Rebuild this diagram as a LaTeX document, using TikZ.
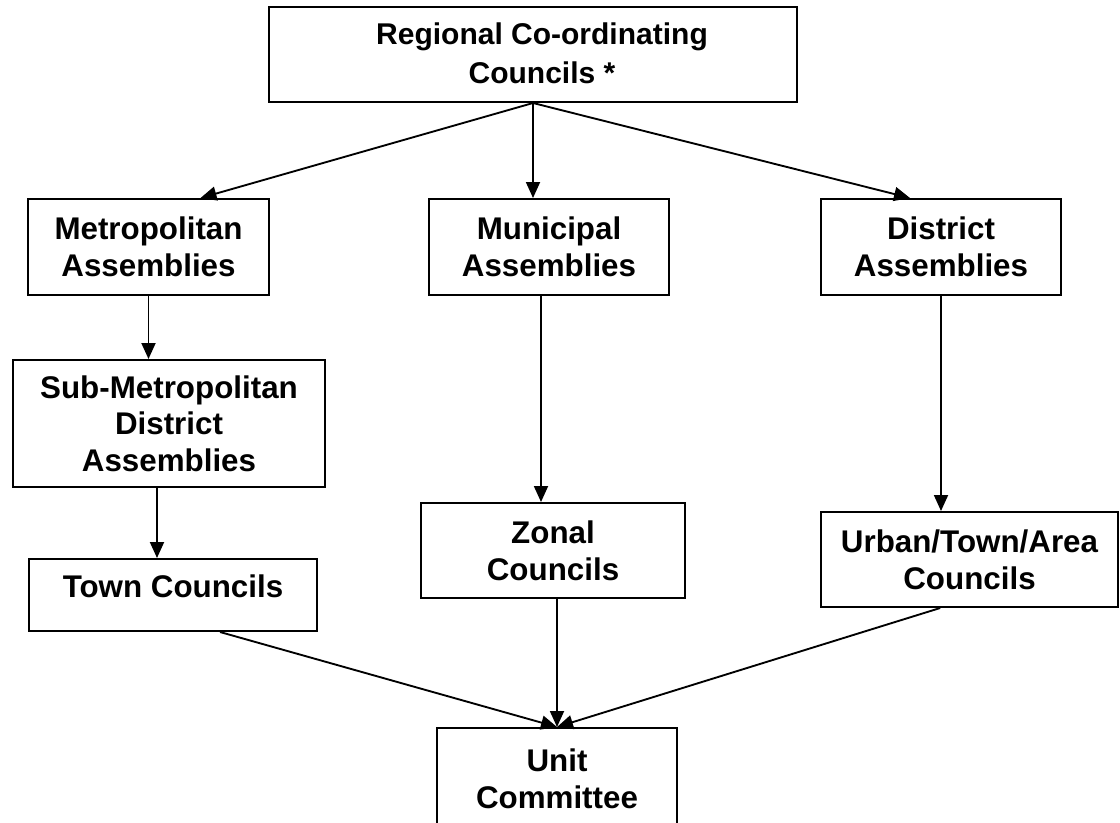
\documentclass[tikz,border=0pt]{standalone}
\usepackage{fontspec}
\setmainfont{Liberation Sans}
\usetikzlibrary{arrows.meta,calc}
\begin{document}
\begin{tikzpicture}[x=0.75pt,y=-0.75pt,
  box/.style={draw=black, line width=1.5pt, fill=white, inner sep=0pt, align=center,
    font=\fontsize{23.5pt}{27.5pt}\selectfont\bfseries},
  lbl/.style={inner sep=0pt, align=center, font=\fontsize{23.5pt}{27.5pt}\selectfont\bfseries},
  arr/.style={line width=1.4pt, -{Triangle[length=12pt,width=10.5pt]}}]
\clip (0,0) rectangle (1120,822);
\fill[white] (0,0) rectangle (1120,822);

\node[box, minimum width=396pt, minimum height=71.25pt] (reg) at (533,54.5) {};
\node[lbl, font=\fontsize{22.5pt}{29.5pt}\selectfont\bfseries] (regt) at (542,53) {Regional Co-ordinating\\Councils *};
\node[box, minimum width=180.75pt, minimum height=72pt] (metro) at (148.5,247) {Metropolitan\\Assemblies};
\node[box, minimum width=180pt, minimum height=72pt] (muni) at (549,247) {Municipal\\Assemblies};
\node[box, minimum width=180pt, minimum height=72pt] (dist) at (941,247) {District\\Assemblies};
\node[box, minimum width=234pt, minimum height=95.25pt] (sub) at (169,423.5) {Sub-Metropolitan\\District\\Assemblies};
\node[box, minimum width=216pt, minimum height=54pt] (town) at (173,595) {};
\node[lbl] (townt) at (173,586) {Town Councils};
\node[box, minimum width=198pt, minimum height=71.25pt] (zonal) at (553,550.5) {Zonal\\Councils};
\node[box, minimum width=222.75pt, minimum height=71.25pt] (urban) at (969.5,559.5) {Urban/Town/Area\\Councils};
\node[box, minimum width=180pt, minimum height=76.5pt] (unit) at (557,779) {Unit\\Committee};

\draw[arr] (reg.south) -- ($(metro.north west)!0.714!(metro.north east)$);
\draw[arr] (reg.south) -- (reg.south |- muni.north);
\draw[arr] (reg.south) -- ($(dist.north west)!0.372!(dist.north east)$);
\draw[arr] (metro.south) -- (metro.south |- sub.north);
\draw[arr] ([xshift=-9pt]sub.south) -- ([xshift=-9pt]sub.south |- town.north);
\draw[arr] ([xshift=-6pt]muni.south) -- ([xshift=-6pt]muni.south |- zonal.north);
\draw[arr] (dist.south) -- (dist.south |- urban.north);
\draw[arr] ([xshift=35.25pt]town.south) -- (unit.north);
\draw[arr] (unit.north |- zonal.south) -- (unit.north);
\draw[arr] ([xshift=-22pt]urban.south) -- (unit.north);
\end{tikzpicture}
\end{document}
